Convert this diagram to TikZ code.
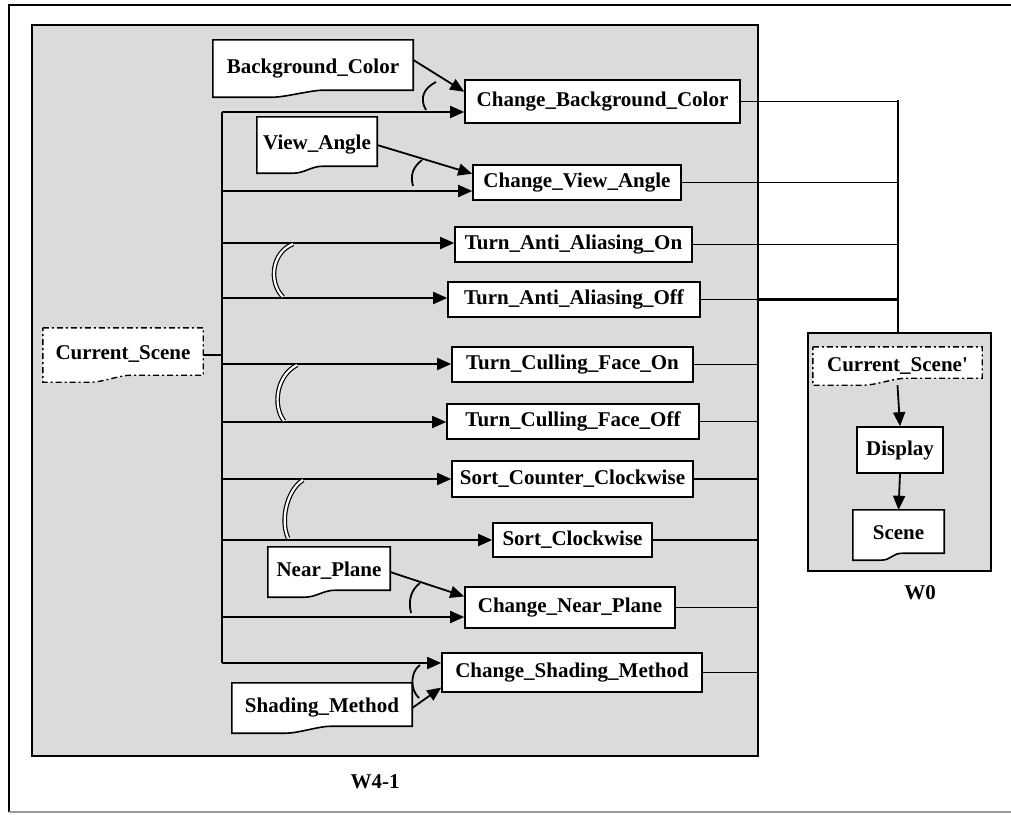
\documentclass[tikz,border=0pt]{standalone}
\usepackage{fontspec}
\setmainfont{Liberation Serif}
\usetikzlibrary{arrows.meta,calc}
\pgfdeclarelayer{back}
\pgfdeclarelayer{mid}
\pgfsetlayers{back,mid,main}
\newcommand{\docoutline}[2]{%
  \draw[#2] (#1.north west) -- (#1.north east) -- ($(#1.south east)+(0,-7)$)
    -- ($(#1.south west)!0.55!(#1.south east)+(0,-7)$)
    .. controls +(-12,0) and +(12,0) .. ($(#1.south west)!0.3!(#1.south east)$)
    -- (#1.south west) -- cycle;}
\begin{document}
\begin{tikzpicture}[x=1pt,y=-1pt,
  font=\fontsize{21}{25}\selectfont\bfseries,
  proc/.style={draw, fill=white, line width=1.6pt, inner sep=0pt},
  docn/.style={inner sep=0pt},
  docline/.style={draw, fill=white, line width=1.6pt},
  dashdoc/.style={draw, fill=white, line width=1.4pt, dash pattern=on 6pt off 3pt on 2pt off 3pt},
  panel/.style={draw, fill=black!14, line width=1.6pt, inner sep=0pt},
  arr/.style={-{Triangle[length=14pt,width=12pt]}, line width=1.8pt},
  wire/.style={line width=1.8pt},
  andarc/.style={line width=1.8pt},
  xorarc/.style={double, double distance=2.2pt, line width=1.2pt},
  lbl/.style={inner sep=0pt}]
\useasboundingbox (0,0) rectangle (1011,814);

% outer frame
\draw[line width=1.5pt] (1011,5) -- (9,5) -- (9,812);
\draw[line width=1.2pt, black!40] (9,812) -- (1011,812);

% panels
\begin{pgfonlayer}{back}
\node[panel, minimum width=726pt, minimum height=731pt] (w41) at (395,390.5) {};
\node[panel, minimum width=183pt, minimum height=238pt] (w0) at (899.5,452) {};
\end{pgfonlayer}
\node[lbl] (w41l) at (375,782) {W4-1};
\node[lbl] (w0l) at (920,593) {W0};

% process boxes
\node[proc, minimum width=275pt, minimum height=43pt] (cbc) at (602.5,101.5) {Change\_Background\_Color};
\node[proc, minimum width=208pt, minimum height=35pt] (cva) at (577,182.5) {Change\_View\_Angle};
\node[proc, minimum width=237pt, minimum height=35pt] (taon) at (573.5,244.5) {Turn\_Anti\_Aliasing\_On};
\node[proc, minimum width=252pt, minimum height=35pt] (taoff) at (574,299.5) {Turn\_Anti\_Aliasing\_Off};
\node[proc, minimum width=241pt, minimum height=35pt] (cfon) at (572.5,364.5) {Turn\_Culling\_Face\_On};
\node[proc, minimum width=252pt, minimum height=35pt] (cfoff) at (573,421.5) {Turn\_Culling\_Face\_Off};
\node[proc, minimum width=241pt, minimum height=36pt] (scc) at (572.5,479) {Sort\_Counter\_Clockwise};
\node[proc, minimum width=159pt, minimum height=34pt] (sc) at (572.5,540) {Sort\_Clockwise};
\node[proc, minimum width=210pt, minimum height=41pt] (cnp) at (570,607.5) {Change\_Near\_Plane};
\node[proc, minimum width=260pt, minimum height=39pt] (csm) at (572,672.5) {Change\_Shading\_Method};
\node[proc, minimum width=86pt, minimum height=46pt] (disp) at (900,450) {Display};

% documents
\node[docn, minimum width=200pt, minimum height=57pt] (bg) at (313,68.5) {\raisebox{5pt}{Background\_Color}};
\node[docn, minimum width=120pt, minimum height=56pt] (va) at (317,145) {\raisebox{5pt}{View\_Angle}};
\node[docn, minimum width=122pt, minimum height=50pt] (np) at (329,572) {\raisebox{5pt}{Near\_Plane}};
\node[docn, minimum width=180pt, minimum height=50pt] (sm) at (322,708) {\raisebox{5pt}{Shading\_Method}};
\node[docn, minimum width=160pt, minimum height=54pt] (cs) at (123,355) {\raisebox{5pt}{Current\_Scene}};
\node[docn, minimum width=169pt, minimum height=38pt] (csp) at (897.5,366) {\raisebox{2pt}{Current\_Scene\textquotesingle}};
\node[docn, minimum width=91pt, minimum height=50pt] (scene) at (898.5,535) {\raisebox{4pt}{Scene}};
\begin{pgfonlayer}{mid}
\docoutline{bg}{docline}
\docoutline{va}{docline}
\docoutline{np}{docline}
\docoutline{sm}{docline}
\docoutline{scene}{docline}
\docoutline{cs}{dashdoc}
\docoutline{csp}{dashdoc}
\end{pgfonlayer}

% bus
\coordinate (b1) at (222,112);
\coordinate (b2) at (222,191);
\coordinate (b3) at (222,243);
\coordinate (b4) at (222,298);
\coordinate (b5) at (222,364);
\coordinate (b6) at (222,422);
\coordinate (b7) at (222,479);
\coordinate (b8) at (222,540);
\coordinate (b9) at (222,617);
\coordinate (b10) at (222,663);
\draw[wire] (b1) -- (b10);
\draw[wire] (cs.east) -- (cs.east -| b1);
\draw[arr] (b1) -- (cbc.west |- b1);
\draw[arr] (b2) -- (cva.west |- b2);
\draw[arr] (b3) -- (taon.west |- b3);
\draw[arr] (b4) -- (taoff.west |- b4);
\draw[arr] (b5) -- (cfon.west |- b5);
\draw[arr] (b6) -- (cfoff.west |- b6);
\draw[arr] (b7) -- (scc.west |- b7);
\draw[arr] (b8) -- (sc.west |- b8);
\draw[arr] (b9) -- (cnp.west |- b9);
\draw[arr] (b10) -- (csm.west |- b10);

% data inputs
\draw[arr] ($(bg.north east)!0.35!(bg.south east)$) -- ($(cbc.north west)!0.28!(cbc.south west)$);
\draw[arr] (va.east) -- ($(cva.north west)!0.26!(cva.south west)$);
\draw[arr] (np.east) -- ($(cnp.north west)!0.24!(cnp.south west)$);
\draw[arr] (sm.east) -- ($(csm.north west)!0.87!(csm.south west)$);

% and / xor arcs
\draw[andarc] (426,110) .. controls (419,98) and (424,88) .. (436,82);
\draw[andarc] (413,186) .. controls (410,175) and (413,167) .. (422,160);
\draw[andarc] (411,613) .. controls (408,600) and (411,590) .. (420,583);
\draw[andarc] (420,665) .. controls (410,672) and (410,690) .. (419,698);
\draw[xorarc] (293,244) .. controls (272,252) and (268,282) .. (283,297);
\draw[xorarc] (297,365) .. controls (277,375) and (272,405) .. (284,421);
\draw[xorarc] (303,480) .. controls (287,490) and (280,520) .. (288,538);

% outputs
\coordinate (rv) at (898,100);
\draw[wire] (rv) -- (rv |- w0.north);
\draw[wire] (cbc.east) -- (cbc.east -| rv);
\draw[wire] (cva.east) -- (cva.east -| rv);
\draw[wire] (taon.east) -- (taon.east -| rv);
\draw[wire] (taoff.east) -- (taoff.east -| w41.east);
\draw[line width=3pt] (taoff.east -| w41.east) -- (taoff.east -| rv);
\draw[wire] (cfon.east) -- (cfon.east -| w41.east);
\draw[wire] (cfoff.east) -- (cfoff.east -| w41.east);
\draw[wire] (scc.east) -- (scc.east -| w41.east);
\draw[wire] (sc.east) -- (sc.east -| w41.east);
\draw[wire] (cnp.east) -- (cnp.east -| w41.east);
\draw[wire] (csm.east) -- (csm.east -| w41.east);

% W0
\draw[arr] (csp.south) -- (disp.north);
\draw[arr] (disp.south) -- (scene.north);
\end{tikzpicture}
\end{document}
